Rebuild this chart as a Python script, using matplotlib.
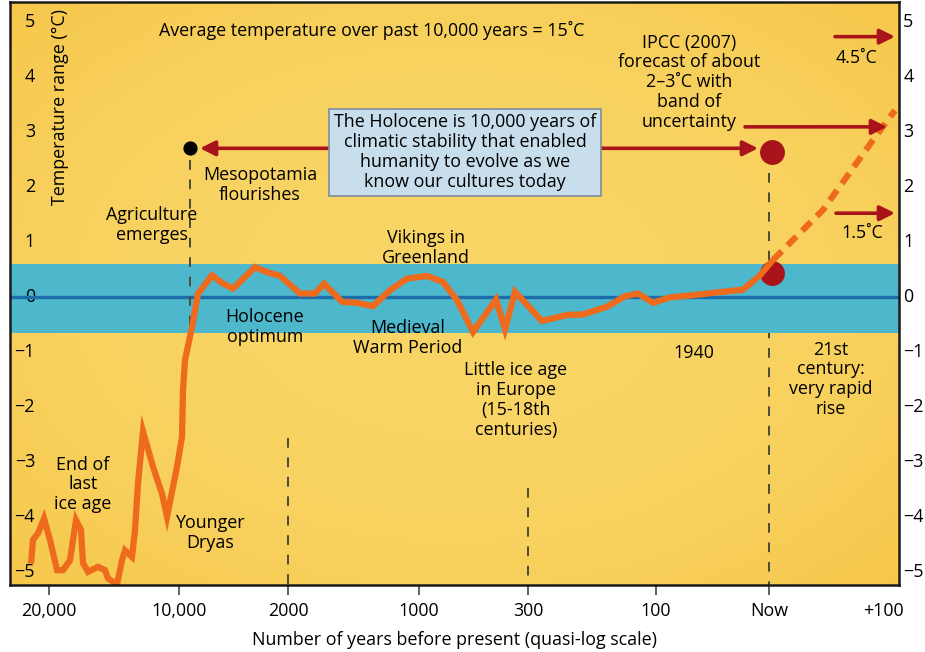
import numpy as np
import matplotlib
matplotlib.use("Agg")
import matplotlib.pyplot as plt
from matplotlib.colors import LinearSegmentedColormap

plt.rcParams['font.family'] = ['Open Sans', 'DejaVu Sans']

# quasi-log x axis: positions of the labelled years
tick_pos = [39, 169, 278, 409, 518, 646, 759]
tick_labels = ["20,000", "10,000", "2000", "1000", "300", "100", "Now"]
future_pos = 873
future_label = "+100"

# temperature anomaly curve (°C)
curve_x = [21, 23, 28, 34, 40, 47, 53, 60, 63, 66, 71, 73, 78, 88, 95, 98,
           107, 112, 115, 122, 125, 128, 133, 143, 152, 157, 167, 172, 173,
           175, 182, 188, 202, 213, 223, 245, 257, 270, 290, 305, 314, 332,
           347, 363, 380, 397, 417, 433, 447, 463, 486, 495, 505, 532, 557,
           573, 597, 615, 628, 643, 660, 683, 707, 733, 750, 763]
curve_t = [-4.88, -4.45, -4.33, -4.06, -4.45, -5.0, -5.0, -4.82, -4.45,
           -4.09, -4.27, -4.87, -5.03, -4.94, -5.0, -5.15, -5.26, -4.82,
           -4.64, -4.76, -4.27, -3.42, -2.48, -3.12, -3.61, -4.03, -3.12,
           -2.58, -1.73, -1.18, -0.58, 0.03, 0.36, 0.21, 0.12, 0.51, 0.42,
           0.35, 0.03, 0.03, 0.21, -0.12, -0.14, -0.2, 0.09, 0.3, 0.35, 0.24,
           -0.09, -0.67, -0.08, -0.62, 0.06, -0.47, -0.36, -0.35, -0.21,
           -0.02, 0.03, -0.14, -0.04, 0.0, 0.05, 0.1, 0.36, 0.64]

# 21st century projection
proj_x = [763, 813, 863, 885]
proj_t = [0.64, 1.55, 2.82, 3.36]

band_low, band_high = -0.69, 0.56

# markers
meso_x, meso_t = 180, 2.67
ipcc_x = 762
ipcc_t = [2.6, 0.4]

# forecast arrows: (tail x, tip x, level)
fc_arrows = [(825, 885, 4.7), (735, 877, 3.06), (826, 885, 1.49)]

YELLOW_IN = "#F9D566"
YELLOW_OUT = "#F6C74A"
BAND = "#4DB7CB"
ZERO = "#1C6DAA"
ORANGE = "#EE6A1C"
DARKRED = "#A8141A"
DASH = "#4A4A3C"

fig = plt.figure(figsize=(9.25, 6.52), dpi=100)
ax = fig.add_axes([10 / 925, 1 - 585 / 652, 889 / 925, 583 / 652])
xmin, xmax = 0, 889
ymin, ymax = -5.27, 5.33
ax.set_xlim(xmin, xmax)
ax.set_ylim(ymin, ymax)

# soft radial background
gx, gy = np.meshgrid(np.linspace(-1, 1, 300), np.linspace(-1, 1, 200))
r = np.clip(np.sqrt(gx ** 2 + gy ** 2) / 1.42, 0, 1) ** 2.5
cmap = LinearSegmentedColormap.from_list("bg", [YELLOW_IN, YELLOW_OUT])
ax.imshow(r, cmap=cmap, extent=[xmin, xmax, ymin, ymax], aspect="auto",
          zorder=0, vmin=0, vmax=1)

dash_kw = dict(color=DASH, lw=1.4, dashes=(5, 5))
ax.plot([tick_pos[6]] * 2, [2.22, ymin], zorder=0.5, **dash_kw)
ax.axhspan(band_low, band_high, color=BAND, zorder=1, lw=0)
ax.axhline(-0.03, color=ZERO, lw=2.4, zorder=2)
ax.plot([meso_x] * 2, [2.45, -0.55], zorder=2.5, **dash_kw)
ax.plot([tick_pos[2]] * 2, [-2.6, ymin], zorder=2.5, **dash_kw)
ax.plot([tick_pos[4]] * 2, [-3.5, ymin], zorder=2.5, **dash_kw)

ax.scatter([ipcc_x] * 2, ipcc_t, s=320, color=DARKRED, zorder=3, lw=0)
ax.plot(curve_x, curve_t, color=ORANGE, lw=4.5, zorder=4,
        solid_joinstyle="miter", solid_capstyle="butt")
ax.plot(proj_x, proj_t, color=ORANGE, lw=4.5, zorder=4, dashes=(2.0, 1.3))
ax.scatter([meso_x], [meso_t], s=85, color="black", zorder=4)

arrow_kw = dict(arrowstyle="-|>,head_length=0.9,head_width=0.45",
                color=DARKRED, lw=2.6, shrinkA=0, shrinkB=0)
ax.annotate("", xy=(190, meso_t), xytext=(318, meso_t), arrowprops=arrow_kw, zorder=5)
ax.annotate("", xy=(748, meso_t), xytext=(592, meso_t), arrowprops=arrow_kw, zorder=5)
for tail, tip, lvl in fc_arrows:
    ax.annotate("", xy=(tip, lvl), xytext=(tail, lvl), arrowprops=arrow_kw, zorder=5)

fs = 12.9
tk = dict(fontsize=fs, ha="center", va="center", linespacing=1.13, zorder=6)
ax.text(362, 4.82, "Average temperature over past 10,000 years = 15˚C", **tk)
ax.text(50, 3.42, "Temperature range (°C)", rotation=90, **tk)
ax.text(455, 2.6, "The Holocene is 10,000 years of\nclimatic stability that enabled\n"
        "humanity to evolve as we\nknow our cultures today",
        bbox=dict(boxstyle="square,pad=0.27", fc="#C9DEEC", ec="#7E8D9A", lw=1.2), **tk)
ax.text(250, 2.0, "Mesopotamia\nflourishes", **tk)
ax.text(142, 1.27, "Agriculture\nemerges", **tk)
ax.text(416, 0.85, "Vikings in\nGreenland", **tk)
ax.text(255, -0.58, "Holocene\noptimum", **tk)
ax.text(398, -0.78, "Medieval\nWarm Period", **tk)
ax.text(506, -1.91, "Little ice age\nin Europe\n(15-18th\ncenturies)", **tk)
ax.text(684, -1.05, "1940", **tk)
ax.text(821, -1.53, "21st\ncentury:\nvery rapid\nrise", **tk)
ax.text(73, -3.44, "End of\nlast\nice age", **tk)
ax.text(200, -4.33, "Younger\nDryas", **tk)
ax.text(679, 3.87, "IPCC (2007)\nforecast of about\n2–3˚C with\nband of\nuncertainty", **tk)
ax.text(847, 4.31, "4.5˚C", **tk)
ax.text(852, 1.13, "1.5˚C", **tk)

# axes styling
for s in ax.spines.values():
    s.set_color("#1a1a1a")
    s.set_linewidth(1.8)
    s.set_zorder(7)

yt = list(range(-5, 6))
ylab = [str(v).replace("-", "−") for v in yt]
ax.set_yticks(yt)
ax.set_yticklabels(ylab)
ax.tick_params(axis="y", length=0, pad=-18, labelsize=fs)
for lbl in ax.get_yticklabels():
    lbl.set_ha("right")
    lbl.set_zorder(8)

ax.set_xticks(tick_pos)
ax.set_xticklabels(tick_labels)
ax.set_xticks([future_pos], [future_label], minor=True)
ax.tick_params(axis="x", which="major", length=7, width=1.3, color="#555555",
               pad=5, labelsize=fs)
ax.tick_params(axis="x", which="minor", length=0, pad=12, labelsize=fs)
ax.set_xlabel("Number of years before present (quasi-log scale)", fontsize=fs,
              labelpad=8)

ax2 = ax.twinx()
ax2.set_ylim(ymin, ymax)
ax2.set_yticks(yt)
ax2.set_yticklabels(ylab)
ax2.tick_params(axis="y", length=0, pad=3, labelsize=fs)
for s in ax2.spines.values():
    s.set_visible(False)

fig.savefig("out.png", dpi=100)
